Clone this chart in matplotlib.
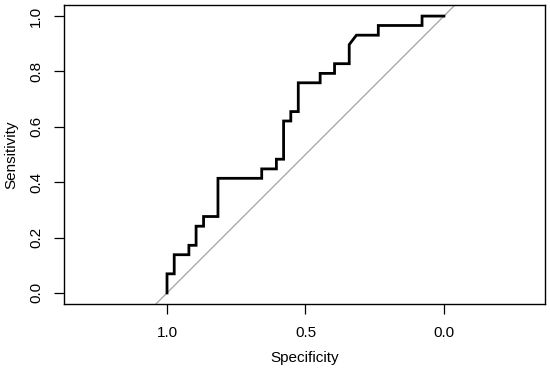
import matplotlib
matplotlib.use("Agg")
import matplotlib.pyplot as plt
import numpy as np

plt.rcParams['font.family'] = ['Liberation Sans', 'DejaVu Sans']

# ROC curve vertices (specificity, sensitivity)
specificity = [1.000, 1.000, 0.974, 0.974, 0.921, 0.921, 0.895, 0.895, 0.868, 0.868,
               0.816, 0.816, 0.658, 0.658, 0.605, 0.605, 0.579, 0.579, 0.553, 0.553,
               0.526, 0.526, 0.447, 0.447, 0.395, 0.395, 0.342, 0.342, 0.316, 0.237,
               0.237, 0.079, 0.079, 0.000]
sensitivity = [0.000, 0.069, 0.069, 0.138, 0.138, 0.172, 0.172, 0.241, 0.241, 0.276,
               0.276, 0.414, 0.414, 0.448, 0.448, 0.483, 0.483, 0.621, 0.621, 0.655,
               0.655, 0.759, 0.759, 0.793, 0.793, 0.828, 0.828, 0.897, 0.931, 0.931,
               0.966, 0.966, 1.000, 1.000]
x_ticks = [1.0, 0.5, 0.0]
x_ticklabels = ["1.0", "0.5", "0.0"]
y_ticks = [0.0, 0.2, 0.4, 0.6, 0.8, 1.0]
y_ticklabels = ["0.0", "0.2", "0.4", "0.6", "0.8", "1.0"]

fig = plt.figure(figsize=(5.5, 3.73), dpi=100)
ax = fig.add_axes([64/550, 1-304/373, (545-64)/550, (304-5)/373])

xlim = (1.372, -0.365)
ylim = (-0.04, 1.04)
d = np.array([-0.5, 1.5])
ax.plot(d, 1 - d, color='#aaaaaa', lw=1.0)
ax.plot(specificity, sensitivity, color='black', lw=2.0, solid_joinstyle='miter')

ax.set_xlim(*xlim)
ax.set_ylim(*ylim)
ax.set_xticks(x_ticks)
ax.set_xticklabels(x_ticklabels)
ax.set_yticks(y_ticks)
ax.set_yticklabels(y_ticklabels, rotation=90, va='center')
ax.tick_params(length=7, width=0.9, labelsize=11, pad=8)
ax.tick_params(axis='x', pad=9)
for s in ax.spines.values():
    s.set_linewidth(1.0)
ax.set_xlabel("Specificity", fontsize=11, labelpad=8)
ax.set_ylabel("Sensitivity", fontsize=11, labelpad=8)

fig.savefig("out.png", dpi=100)
